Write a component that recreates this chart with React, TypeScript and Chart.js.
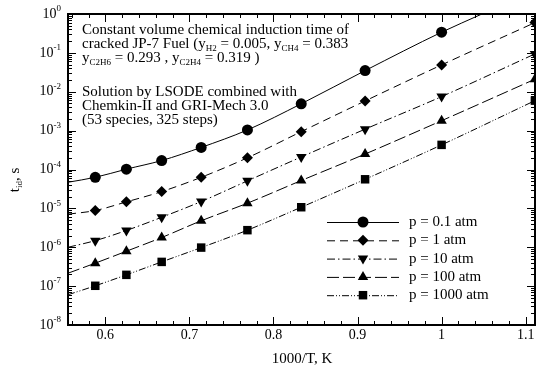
import React, { useEffect, useRef } from "react";
import { Chart, registerables } from "chart.js";
import { drawPoint } from "chart.js/helpers";

Chart.register(...registerables);

// 1000/T values (T = 1700 ... 900 K)
const invT = [0.588, 0.625, 0.667, 0.714, 0.769, 0.833, 0.909, 1.0, 1.111];

// Induction times (s)
const tauP01 = [6.3e-5, 1.02e-4, 1.7e-4, 3.7e-4, 1.04e-3, 4.9e-3, 0.035, 0.34];
const tauP1 = [8.8e-6, 1.47e-5, 2.7e-5, 6.3e-5, 2.0e-4, 9.4e-4, 5.8e-3, 0.049, 0.6];
const tauP10 = [1.48e-6, 2.7e-6, 5.9e-6, 1.5e-5, 5.1e-5, 2.1e-4, 1.09e-3, 7.5e-3, 0.094];
const tauP100 = [3.9e-7, 7.9e-7, 1.78e-6, 4.8e-6, 1.36e-5, 5.2e-5, 2.5e-4, 1.8e-3, 0.021];
const tauP1000 = [1.02e-7, 1.95e-7, 4.2e-7, 9.8e-7, 2.75e-6, 1.07e-5, 5.6e-5, 4.3e-4, 5.9e-3];

// Fitted-curve ends at the left border (1000/T = 0.5556)
const curveStartX = 0.5556;
const curveStartY = [4.7e-5, 7.1e-6, 1.0e-6, 2.15e-7, 6.0e-8];
// p = 0.1 curve leaves through the top border
const curveEndP01 = { x: 1.048, y: 1.0 };

const seriesLabels = ["p = 0.1 atm", "p = 1 atm", "p = 10 atm", "p = 100 atm", "p = 1000 atm"];
const seriesValues = [tauP01, tauP1, tauP10, tauP100, tauP1000];

const xMajorTicks = [0.6, 0.7, 0.8, 0.9, 1.0, 1.1];
const xMajorLabels = ["0.6", "0.7", "0.8", "0.9", "1", "1.1"];
const yDecadeExps = [0, -1, -2, -3, -4, -5, -6, -7, -8];

const dashes: number[][] = [[], [8, 5], [8, 3, 1.5, 3], [12, 4], [7, 2, 1, 2, 1, 2]];
const pointStyles = ["circle", "rectRot", "triangle", "triangle", "rect"];
const pointRotations = [0, 0, 180, 0, 0];
const pointRadii = [5.5, 5.5, 6, 6, 6];

const SERIF = '"Liberation Serif", "DejaVu Serif", serif';

type Seg = [string, boolean];

function drawRich(ctx: CanvasRenderingContext2D, segs: Seg[], x: number, y: number, size: number) {
  let cx = x;
  ctx.textAlign = "left";
  ctx.textBaseline = "alphabetic";
  for (const [t, sub] of segs) {
    if (sub) {
      ctx.font = `${Math.round(size * 0.62)}px ${SERIF}`;
      ctx.fillText(t, cx, y + 3);
    } else {
      ctx.font = `${size}px ${SERIF}`;
      ctx.fillText(t, cx, y);
    }
    cx += ctx.measureText(t).width;
  }
}

const annotationLines: { segs: Seg[]; y: number }[] = [
  { segs: [["Constant volume chemical induction time of", false]], y: 34 },
  {
    segs: [
      ["cracked JP-7 Fuel (y", false],
      ["H2", true],
      [" = 0.005, y", false],
      ["CH4", true],
      [" = 0.383", false],
    ],
    y: 48,
  },
  {
    segs: [
      ["y", false],
      ["C2H6", true],
      [" = 0.293 , y", false],
      ["C2H4", true],
      [" = 0.319 )", false],
    ],
    y: 62,
  },
  { segs: [["Solution by LSODE combined with", false]], y: 96 },
  { segs: [["Chemkin-II and GRI-Mech 3.0", false]], y: 110 },
  { segs: [["(53 species, 325 steps)", false]], y: 124 },
];

const decoPlugin = {
  id: "deco",
  afterDraw(chart: any) {
    const ctx: CanvasRenderingContext2D = chart.ctx;
    const { left, right, top, bottom } = chart.chartArea;
    const xs = chart.scales.x;
    const ys = chart.scales.y;
    ctx.save();
    ctx.setLineDash([]);
    ctx.strokeStyle = "#000";
    ctx.fillStyle = "#000";

    // x ticks (bottom and top)
    ctx.lineWidth = 1;
    for (let k = 28; k <= 55; k++) {
      const v = k * 0.02;
      const px = Math.round(xs.getPixelForValue(v)) + 0.5;
      const major = k % 5 === 0;
      const len = major ? 8 : 4;
      ctx.beginPath();
      ctx.moveTo(px, bottom);
      ctx.lineTo(px, bottom - len);
      ctx.moveTo(px, top);
      ctx.lineTo(px, top + len);
      ctx.stroke();
    }
    // y ticks (left and right)
    for (let e = -8; e <= 0; e++) {
      for (let m = 1; m <= 9; m++) {
        const v = m * Math.pow(10, e);
        if (v > 1.0000001) break;
        const py = Math.round(ys.getPixelForValue(v)) + 0.5;
        const len = m === 1 ? 8 : 4;
        ctx.beginPath();
        ctx.moveTo(left, py);
        ctx.lineTo(left + len, py);
        ctx.moveTo(right, py);
        ctx.lineTo(right - len, py);
        ctx.stroke();
      }
    }

    // frame
    ctx.lineWidth = 2;
    ctx.strokeRect(left, top, right - left, bottom - top);

    // x tick labels
    ctx.font = `14px ${SERIF}`;
    ctx.textAlign = "center";
    ctx.textBaseline = "middle";
    xMajorTicks.forEach((v, i) => {
      ctx.fillText(xMajorLabels[i], xs.getPixelForValue(v), bottom + 10);
    });

    // y tick labels 10^e
    yDecadeExps.forEach((e) => {
      const py = ys.getPixelForValue(Math.pow(10, e));
      const sup = String(e);
      ctx.font = `9px ${SERIF}`;
      const sw = ctx.measureText(sup).width;
      const rx = left - 7;
      ctx.textAlign = "left";
      ctx.textBaseline = "middle";
      ctx.fillText(sup, rx - sw, py - 5);
      ctx.font = `14px ${SERIF}`;
      ctx.textAlign = "right";
      ctx.fillText("10", rx - sw, py);
    });

    // axis titles
    ctx.font = `15px ${SERIF}`;
    ctx.textAlign = "center";
    ctx.textBaseline = "middle";
    ctx.fillText("1000/T, K", (left + right) / 2 + 0.5, bottom + 34);

    ctx.save();
    ctx.translate(14, 180);
    ctx.rotate(-Math.PI / 2);
    ctx.font = `15px ${SERIF}`;
    const w1 = ctx.measureText("t").width;
    ctx.font = `9px ${SERIF}`;
    const w2 = ctx.measureText("id").width;
    ctx.font = `15px ${SERIF}`;
    const w3 = ctx.measureText(", s").width;
    drawRich(ctx, [["t", false], ["id", true], [", s", false]], -(w1 + w2 + w3) / 2, 5, 15);
    ctx.restore();

    // annotation
    annotationLines.forEach((l) => drawRich(ctx, l.segs, left + 14, l.y, 15));

    // legend
    const legendY0 = 222;
    const legendDy = 18.3;
    seriesLabels.forEach((lab, i) => {
      const y = legendY0 + i * legendDy;
      ctx.lineWidth = 1;
      ctx.setLineDash(dashes[i]);
      ctx.beginPath();
      ctx.moveTo(327, y + 0.5);
      ctx.lineTo(399, y + 0.5);
      ctx.stroke();
      ctx.setLineDash([]);
      ctx.fillStyle = "#000";
      drawPoint(
        ctx,
        { pointStyle: pointStyles[i], rotation: pointRotations[i], radius: pointRadii[i], borderWidth: 0 } as any,
        363,
        y
      );
      ctx.font = `15px ${SERIF}`;
      ctx.textAlign = "left";
      ctx.textBaseline = "middle";
      ctx.fillText(lab, 409, y);
    });

    ctx.restore();
  },
};

export default function App() {
  const ref = useRef<HTMLCanvasElement | null>(null);
  useEffect(() => {
    if (!ref.current) return;
    const datasets: any[] = [];
    seriesValues.forEach((vals, i) => {
      const markerPts = vals.map((v, j) => ({ x: invT[j], y: v }));
      const curvePts = [{ x: curveStartX, y: curveStartY[i] }, ...markerPts];
      if (i === 0) curvePts.push(curveEndP01);
      datasets.push({
        label: seriesLabels[i] + " curve",
        data: curvePts,
        borderColor: "#000",
        borderWidth: 1,
        borderDash: dashes[i],
        pointRadius: 0,
        fill: false,
        cubicInterpolationMode: "monotone",
      });
      datasets.push({
        label: seriesLabels[i],
        data: markerPts,
        showLine: false,
        pointStyle: pointStyles[i],
        rotation: pointRotations[i],
        pointRadius: pointRadii[i],
        pointBackgroundColor: "#000",
        pointBorderColor: "#000",
        pointBorderWidth: 0,
      });
    });
    const chart = new Chart(ref.current, {
      type: "line",
      data: { datasets },
      options: {
        animation: false,
        responsive: false,
        devicePixelRatio: 1,
        layout: { padding: { left: 68, top: 14, right: 7, bottom: 44 } },
        plugins: { legend: { display: false }, tooltip: { enabled: false } },
        scales: {
          x: { type: "linear", min: 1000 / 1800, max: 1000 / 900, display: false },
          y: { type: "logarithmic", min: 1e-8, max: 1, display: false },
        },
      },
      plugins: [decoPlugin],
    } as any);
    return () => chart.destroy();
  }, []);
  return (
    <div style={{ position: "absolute", left: 0, top: 0, width: 542, height: 369, background: "#fff" }}>
      <canvas ref={ref} width={542} height={369} style={{ width: 542, height: 369 }} />
    </div>
  );
}
